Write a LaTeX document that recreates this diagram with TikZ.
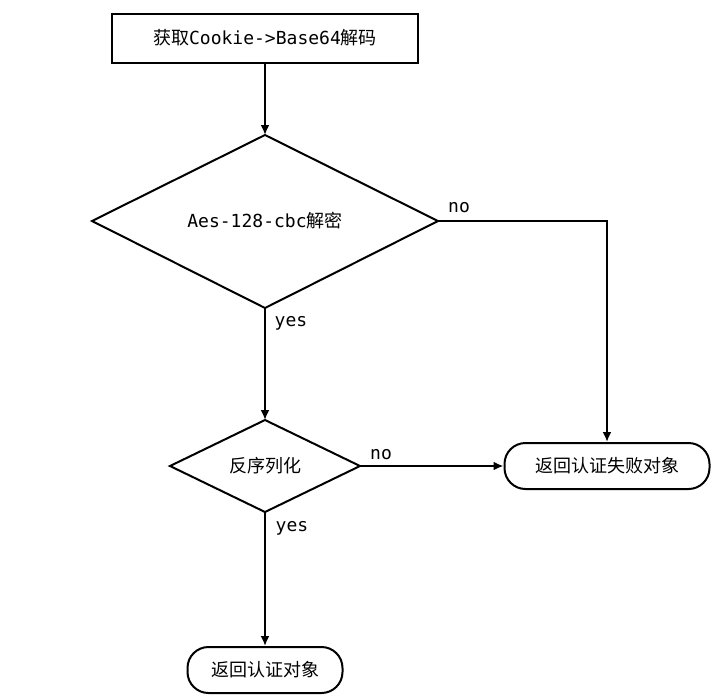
\documentclass[tikz,border=0pt]{standalone}
\usepackage{fontspec}
\setmonofont{DejaVu Sans Mono}
\newfontfamily\cjk{Noto Sans CJK SC}
\usetikzlibrary{shapes.geometric,arrows.meta}
\tikzset{
    every node/.style={font=\fontsize{18}{21}\selectfont\ttfamily},
    stepbox/.style={draw, line width=2pt, minimum width=306pt, minimum height=49pt},
    endbox/.style={draw, line width=2pt, rounded corners=21pt, minimum height=46pt, inner xsep=12pt},
    flowline/.style={line width=2pt, -{Latex[length=10pt,width=9pt]}}
}
\begin{document}
\begin{tikzpicture}[x=1pt, y=-1pt]
            \useasboundingbox (0,0) rectangle (728,697);
            % 节点
            \node[stepbox] (fetch) at (265,38) {{\cjk 获取}Cookie->Base64{\cjk 解码}};
            \draw[line width=2pt] (92,221) -- (265,135) -- (438,221) -- (265,308) -- cycle;
            \node (aes) at (265,221) {Aes-128-cbc{\cjk 解密}};
            \coordinate (aesT) at (265,135);
            \coordinate (aesB) at (265,308);
            \coordinate (aesR) at (438,221);
            \draw[line width=2pt] (170,466) -- (265,420) -- (360,466) -- (265,512) -- cycle;
            \node (deser) at (265,466) {\cjk 反序列化};
            \coordinate (deserT) at (265,420);
            \coordinate (deserB) at (265,512);
            \coordinate (deserR) at (360,466);
            \node[endbox, minimum width=205pt] (fail) at (607,466) {\cjk 返回认证失败对象};
            \node[endbox, minimum width=155pt] (ok) at (265,670) {\cjk 返回认证对象};

            % 连线
            \draw[flowline] (fetch) -- (aesT);
            \draw[flowline] (aesR) -| (fail.north);
            \draw[flowline] (aesB) -- (deserT);
            \draw[flowline] (deserR) -- (fail);
            \draw[flowline] (deserB) -- (ok);

            % 标签
            \node at (459,208) {no};
            \node at (291,323) {yes};
            \node at (381,455) {no};
            \node at (292,528) {yes};
\end{tikzpicture}
\end{document}
